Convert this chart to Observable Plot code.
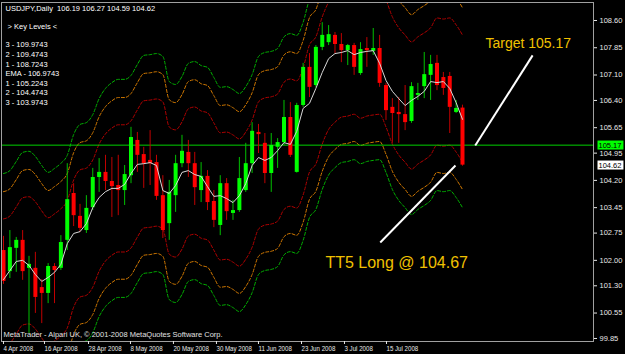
<!DOCTYPE html>
<html><head><meta charset="utf-8">
<script src="https://cdn.jsdelivr.net/npm/d3@7"></script>
<script src="https://cdn.jsdelivr.net/npm/@observablehq/plot@0.6"></script>
<style>
html,body{margin:0;padding:0;background:#000;overflow:hidden;}
</style></head><body><div id="chart"></div>
<script>
// ---- candle data (bar 1..73) ----
const open = [102.27,101.69,102.33,102.55,101.78,101.78,101.25,101.09,101.83,101.78,
102.55,103.84,103.21,102.82,103.45,104.28,104.42,104.17,104.06,103.92,
104.33,105.30,104.91,104.75,104.69,103.78,103.01,103.78,104.66,104.97,
104.66,103.92,104.31,103.62,102.96,104.11,103.29,103.37,103.92,104.66,
105.52,105.22,104.39,105.11,105.24,105.93,104.42,106.26,107.31,106.81,
107.86,107.99,108.19,107.94,107.77,107.91,107.14,107.83,107.75,107.83,
106.81,106.21,106.07,106.01,105.82,106.54,106.78,107.09,107.42,107.03,
107.06,106.07,106.19];
const high = [102.66,102.82,102.63,102.82,102.11,102.22,101.47,101.91,101.91,102.68,
104.66,104.11,103.54,103.78,104.53,104.80,104.89,104.83,104.89,104.61,
105.66,105.52,105.11,105.57,104.89,104.33,104.20,104.89,105.44,105.30,
104.97,104.69,104.47,103.92,104.33,104.25,103.65,104.83,105.22,105.79,
105.74,105.49,105.49,105.35,106.40,106.34,106.32,107.42,107.69,107.91,
108.54,108.46,108.27,108.24,107.94,107.97,107.99,108.13,108.38,108.19,
106.87,106.45,106.48,106.81,106.89,106.87,107.72,107.64,107.64,107.17,
107.17,106.40,106.27];
const low = [101.34,101.50,101.67,101.45,99.99,100.54,100.26,100.81,100.81,101.72,
102.27,102.93,102.77,102.74,103.37,103.87,103.92,103.18,103.23,103.51,
104.11,104.42,103.98,104.06,103.65,102.60,102.55,103.32,104.55,104.28,
103.51,103.59,103.37,102.90,102.68,103.10,103.10,103.32,103.87,104.39,
104.94,104.11,103.87,104.53,105.16,104.83,104.40,106.21,106.48,106.76,
107.77,107.91,107.69,107.44,107.36,107.09,107.09,107.31,107.64,106.76,
105.85,105.22,105.22,105.57,105.77,106.40,106.45,106.40,106.67,106.54,
105.49,106.04,104.59];
const close = [101.42,102.35,102.55,101.69,101.89,100.98,101.09,101.83,101.72,102.49,
103.67,103.23,102.88,103.43,104.28,104.42,104.17,104.03,103.92,104.36,
105.38,104.89,104.66,104.66,103.76,102.82,103.87,104.66,105.00,104.66,
104.00,104.31,103.59,103.10,104.11,103.34,103.37,104.25,104.66,105.55,
105.46,104.39,105.16,105.24,105.93,104.89,106.26,107.31,106.76,107.86,
108.19,108.21,107.94,107.77,107.91,107.31,107.80,107.77,107.83,106.87,
106.12,106.04,106.01,105.79,106.78,106.59,107.11,107.39,106.81,106.73,
106.21,106.18,104.62];
// EMA (white line)
const ema = [101.47,101.72,101.97,102.00,101.86,101.61,101.42,101.53,101.67,101.89,
102.46,102.74,102.79,103.01,103.45,103.73,103.89,103.98,103.98,104.09,
104.39,104.64,104.66,104.69,104.61,103.92,103.84,104.06,104.42,104.47,
104.36,104.31,104.03,103.76,103.78,103.70,103.59,103.78,104.11,104.61,
104.83,104.75,104.83,105.02,105.24,105.19,105.55,106.18,106.32,106.73,
107.17,107.55,107.69,107.72,107.77,107.66,107.72,107.75,107.77,107.42,
106.95,106.65,106.45,106.26,106.40,106.51,106.65,106.92,106.89,106.92,
106.73,106.34,105.88];
// centre of the dashed envelope bands
const bandMid = [101.39,101.47,101.72,101.97,102.00,101.86,101.61,101.42,101.53,101.67,
101.89,102.46,102.74,102.79,103.01,103.45,103.73,103.89,103.98,103.98,
104.09,104.39,104.64,104.66,104.69,104.61,103.92,103.84,104.06,104.42,
104.47,104.36,104.31,104.03,103.76,103.78,103.70,103.59,103.78,104.11,
104.61,104.72,104.75,104.83,105.15,105.24,105.19,105.55,106.18,106.40,
106.95,107.35,107.55,107.69,107.72,107.77,107.66,107.72,107.75,107.77,
107.42,106.95,106.65,106.45,106.26,106.40,106.51,106.65,106.92,106.89,
106.92,106.73,106.45];

// key levels panel
const keyLabels = ["3","2","1","EMA","1","2","3"];
const keyValues = [109.9743,109.4743,108.7243,106.9743,105.2243,104.4743,103.9743];
const emaLevel = 106.9743;
const bandColors = ["#00b000","#d07800","#b00000","#b00000","#d07800","#00b000"];

// header
const symbol = "USDJPY,Daily";
const lastOHLC = [106.19, 106.27, 104.59, 104.62];

// axes
const yTicks = [108.60,107.85,107.10,106.40,105.65,104.95,104.20,103.45,102.75,102.00,101.30,100.55,99.85];
const xTickBars = [0.84,7.27,14.18,20.76,27.5,34.25,40.84,47.59,54.33,60.92];
const xTickLabels = ["4 Apr 2008","16 Apr 2008","28 Apr 2008","8 May 2008","20 May 2008","30 May 2008","11 Jun 2008","23 Jun 2008","3 Jul 2008","15 Jul 2008"];

// price markers and annotations
const targetPrice = 105.17;
const priceBoxes = [{p: 105.17, bg: "#00ff00"}, {p: 104.62, bg: "#ffffff"}];
const notes = [{text: "Target 105.17", bar: 76.6, price: 107.97, size: 14}, {text: "TT5 Long @ 104.67", bar: 51.5, price: 101.94, size: 16}];
const arrows = [
  {bar1: 75.0, p1: 105.16, bar2: 84.0, p2: 107.64},
  {bar1: 60.1, p1: 102.49, bar2: 71.9, p2: 104.61}
];
const copyright = "MetaTrader - Alpari UK, \u00a9 2001-2008 MetaQuotes Software Corp.";

// ---- build tables ----
const bars = open.map((o, k) => ({i: k + 1, o, h: high[k], l: low[k], c: close[k], up: close[k] >= o, ema: ema[k]}));
const bands = [];
keyValues.forEach((kv, j) => {
  if (keyLabels[j] === "EMA") return;
  const off = kv - emaLevel;
  bandMid.forEach((m, k) => bands.push({i: k + 1, v: m + off, band: j}));
});
const bandColorOf = j => bandColors[j > 3 ? j - 1 : j];

const font = "'Liberation Sans', Arial, sans-serif";

const chart = Plot.plot({
  width: 625, height: 354,
  marginLeft: 1, marginRight: 32, marginTop: 2, marginBottom: 13,
  style: {background: "#000", color: "#fff", fontFamily: font, fontSize: "7.5px"},
  x: {domain: [0.686, 93.55], axis: null},
  y: {domain: [99.767, 109.095], axis: null},
  marks: [
    Plot.line(bands, {x: "i", y: "v", z: "band", stroke: d => bandColorOf(d.band), strokeWidth: 1, strokeDasharray: "3,2", curve: "monotone-x", clip: true}),
    Plot.ruleY([targetPrice], {stroke: "#00d000", strokeWidth: 1}),
    Plot.ruleX(bars, {x: "i", y1: "l", y2: "h", stroke: d => d.up ? "#00c000" : "#c00000", strokeWidth: 1, clip: true}),
    Plot.ruleX(bars, {x: "i", y1: "o", y2: "c", stroke: d => d.up ? "#00ff00" : "#ff0000", strokeWidth: 4, clip: true}),
    Plot.line(bars, {x: "i", y: "ema", stroke: "#d8d8d8", strokeWidth: 1, clip: true}),
    Plot.link(arrows, {x1: "bar1", y1: "p1", x2: "bar2", y2: "p2", stroke: "#ffffff", strokeWidth: 2}),
    Plot.text([notes[0]], {x: "bar", y: "price", text: "text", textAnchor: "start", fill: "#f0c000", fontSize: notes[0].size, fontFamily: font}),
    Plot.text([notes[1]], {x: "bar", y: "price", text: "text", textAnchor: "start", fill: "#f0c000", fontSize: notes[1].size, fontFamily: font}),
    Plot.frame({stroke: "#a0a0a0"}),
    Plot.axisY({anchor: "right", ticks: yTicks, tickFormat: d => d.toFixed(2), tickSize: 3, tickPadding: 3, color: "#e8e8e8", fontSize: 7.5, label: null}),
    Plot.axisX({anchor: "bottom", ticks: xTickBars, tickFormat: d => xTickLabels[xTickBars.indexOf(d)], tickSize: 3, tickPadding: 1, textAnchor: "start", dx: 1, color: "#e8e8e8", fontSize: 7.5, label: null}),
    Plot.text(priceBoxes, {y: "p", text: d => d.p.toFixed(2), frameAnchor: "right", dx: 5, textAnchor: "start", fill: "#000", fontSize: 7.5}),
    Plot.text([`${symbol}  ${lastOHLC.map(v => v.toFixed(2)).join(" ")}`], {frameAnchor: "top-left", dx: 4, dy: 6, lineAnchor: "middle", fill: "#fff", fontSize: 7.5}),
    Plot.text(["> Key Levels <"], {frameAnchor: "top-left", dx: 6, dy: 24, lineAnchor: "middle", fill: "#fff", fontSize: 7.5}),
    Plot.text([keyLabels.map((l, k) => `${l} - ${keyValues[k].toFixed(4)}`).join("\n")], {frameAnchor: "top-left", dx: 4, dy: 38, lineAnchor: "top", lineHeight: 1.28, fill: "#fff", fontSize: 7.5}),
    Plot.text([copyright], {frameAnchor: "bottom-left", dx: 2, dy: -7, lineAnchor: "middle", fill: "#e0e0e0", fontSize: 7.5})
  ]
});
document.getElementById("chart").appendChild(chart);

const boxLabels = priceBoxes.map(d => d.p.toFixed(2));
d3.select(chart).selectAll("text").each(function() {
  const s = this.textContent;
  const t = this.getAttribute("transform");
  const k = boxLabels.indexOf(s);
  if (k >= 0 && this.getAttribute("fill") !== null || (k >= 0 && this.parentNode.getAttribute("fill") === "#000")) {
    // backgrounds for the right-hand price boxes
    const bb = this.getBBox();
    const r = document.createElementNS("http://www.w3.org/2000/svg", "rect");
    r.setAttribute("x", bb.x - 1); r.setAttribute("y", bb.y);
    r.setAttribute("width", bb.width + 3); r.setAttribute("height", bb.height);
    r.setAttribute("fill", priceBoxes[k].bg);
    if (t) r.setAttribute("transform", t);
    this.parentNode.insertBefore(r, this);
  }
  if (xTickLabels.includes(s)) {
    // narrow the date labels like the terminal's font
    this.setAttribute("transform", (t || "") + " scale(0.82,1)");
  }
});
</script></body></html>
